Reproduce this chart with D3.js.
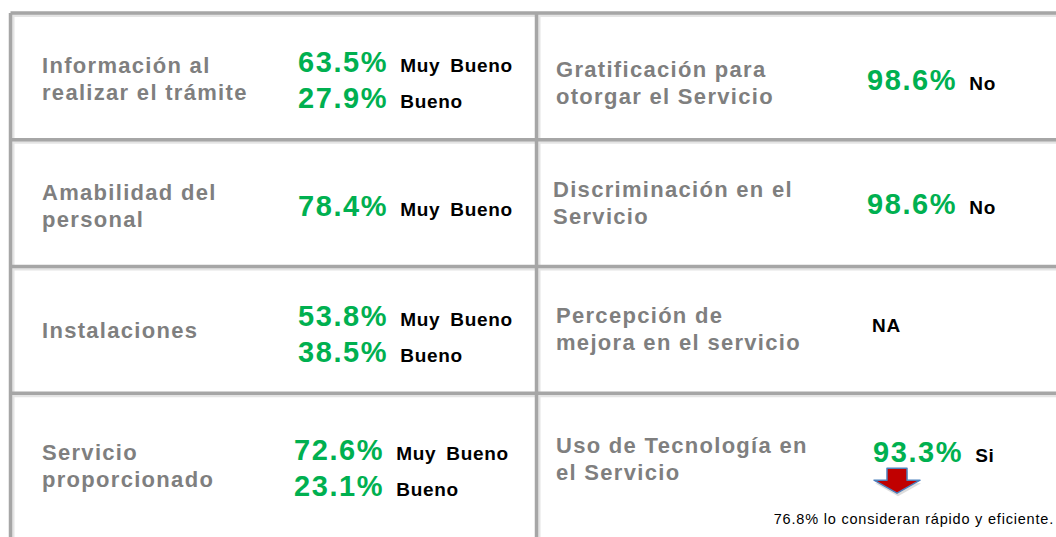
<!DOCTYPE html>
<html>
<head>
<meta charset="utf-8">
<title>Resultados</title>
<style>
  body { margin: 0; background: #fff; }
  svg { display: block; font-family: "Liberation Sans", Arial, sans-serif; }
</style>
</head>
<body>
<script src="https://cdn.jsdelivr.net/npm/d3@7"></script>
<script>
// data
const leftLabels = [
  ["Información al", "realizar el trámite"],
  ["Amabilidad del", "personal"],
  ["Instalaciones"],
  ["Servicio", "proporcionado"]
];
const leftPcts = [[63.5, 27.9], [78.4], [53.8, 38.5], [72.6, 23.1]];
const leftWords = [["Muy Bueno", "Bueno"], ["Muy Bueno"], ["Muy Bueno", "Bueno"], ["Muy Bueno", "Bueno"]];

const rightLabels = [
  ["Gratificación para", "otorgar el Servicio"],
  ["Discriminación en el", "Servicio"],
  ["Percepción de", "mejora en el servicio"],
  ["Uso de Tecnología en", "el Servicio"]
];
const rightPcts = [98.6, 98.6, null, 93.3];
const rightWords = ["No", "No", "NA", "Si"];
const footNote = "76.8% lo consideran rápido y eficiente.";

// layout nudges (px, relative to row centre)
const leftLabelDy = [2, 2, 0.5, 9];
const rightLabelDy = [6, -0.5, -1.5, 1.5];
const leftValDy = [3.5, 2.5, 4, 11.5];
const rightValDy = [3.5, 0.5, -7.5, -4.5];
const leftValX = [298, 298, 298, 294];
const rightLabelX = [556, 553, 556, 556];
const rightValX = [867, 867, 872, 873];

const width = 1056, height = 537;
const gridColor = "#a6a6a6";

const svg = d3.select("body").append("svg")
  .attr("width", width)
  .attr("height", height);

const rows = d3.range(leftLabels.length);
const y = d3.scaleLinear().domain([0, rows.length]).range([13, 520]);
const colX = d3.scaleOrdinal().domain(["left", "mid"]).range([10.5, 536.5]);

const rowCenter = i => (y(i) + y(i + 1)) / 2;

// grid: soft shadow then line
const grid = svg.append("g");
const hLines = [y(0)].concat(rows.slice(1).map(y));
const drawGrid = (color, w, off) => {
  grid.selectAll(null).data(hLines).join("line")
    .attr("x1", colX("left")).attr("x2", width)
    .attr("y1", d => d + off).attr("y2", d => d + off)
    .attr("stroke", color).attr("stroke-width", w);
  grid.selectAll(null).data(["left", "mid"]).join("line")
    .attr("x1", d => colX(d) + off).attr("x2", d => colX(d) + off)
    .attr("y1", y(0)).attr("y2", height)
    .attr("stroke", color).attr("stroke-width", w);
};
drawGrid("#e4e4e4", 3, 2.5);
drawGrid(gridColor, 3.5, 0);

const fmt = d => d.toFixed(1) + "%";

function labelBlock(x, cy, lines) {
  const t = svg.append("text")
    .attr("fill", "#7f7f7f")
    .attr("font-weight", "bold")
    .attr("font-size", 22)
    .attr("letter-spacing", 1.3);
  lines.forEach((l, k) => {
    t.append("tspan")
      .attr("x", x)
      .attr("y", cy + (k - (lines.length - 1) / 2) * 27 + 8)
      .text(l);
  });
}

rows.forEach(i => labelBlock(42, rowCenter(i) + leftLabelDy[i], leftLabels[i]));
rows.forEach(i => labelBlock(rightLabelX[i], rowCenter(i) + rightLabelDy[i], rightLabels[i]));

function valuePair(x, base, pct, word) {
  let wx = x;
  if (pct != null) {
    const p = svg.append("text")
      .attr("x", x).attr("y", base)
      .attr("fill", "#00b050")
      .attr("font-weight", "bold")
      .attr("font-size", 29)
      .attr("letter-spacing", 1.6)
      .text(fmt(pct));
    wx = x + p.node().getComputedTextLength() + 12;
  }
  svg.append("text")
    .attr("x", wx).attr("y", base)
    .attr("fill", "#000")
    .attr("font-weight", "bold")
    .attr("font-size", 19)
    .attr("word-spacing", 4)
    .attr("letter-spacing", 0.7)
    .text(word);
  return wx;
}

// left values
rows.forEach(i => {
  const vals = leftPcts[i];
  const cy = rowCenter(i) + leftValDy[i];
  vals.forEach((v, k) => {
    valuePair(leftValX[i], cy + (k - (vals.length - 1) / 2) * 36 + 10, v, leftWords[i][k]);
  });
});

// right values
rows.forEach(i => {
  const cy = rowCenter(i) + rightValDy[i];
  valuePair(rightValX[i], cy + 10, rightPcts[i], rightWords[i]);
});

// down arrow under the last value
const ax = rightValX[3] + 24, ay = rowCenter(3) + rightValDy[3] + 16;
const arrow = [[-10, 0], [10, 0], [10, 12], [23, 12], [0, 25], [-23, 12], [-10, 12]];
svg.append("path")
  .attr("d", d3.line()(arrow.map(p => [ax + p[0] + 1, ay + p[1] + 3])))
  .attr("fill", "#bbb").attr("opacity", 0.5);
svg.append("path")
  .attr("d", d3.line()(arrow.map(p => [ax + p[0], ay + p[1]])) + "Z")
  .attr("fill", "#c00000")
  .attr("stroke", "#4f81bd")
  .attr("stroke-width", 1.5)
  .attr("stroke-linejoin", "round");

svg.append("text")
  .attr("x", width - 2).attr("y", 524)
  .attr("text-anchor", "end")
  .attr("font-size", 14.5)
  .attr("letter-spacing", 0.8)
  .attr("fill", "#000")
  .text(footNote);
</script>
</body>
</html>
